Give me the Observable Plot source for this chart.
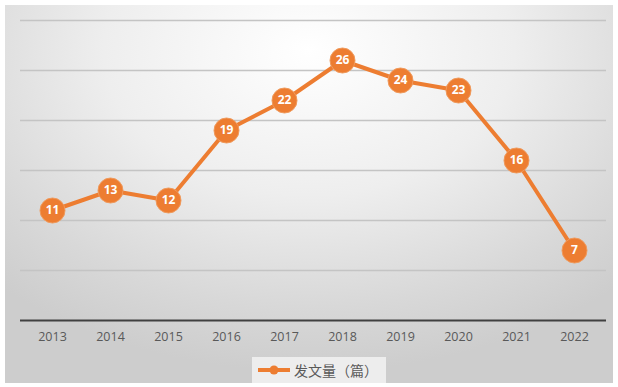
<!DOCTYPE html>
<html><head><meta charset="utf-8">
<script src="https://cdn.jsdelivr.net/npm/d3@7"></script>
<script src="https://cdn.jsdelivr.net/npm/@observablehq/plot@0.6"></script>
<style>
html,body{margin:0;padding:0;background:#fff;}
#wrap{position:absolute;left:5px;top:5px;width:608px;height:378px;
background:radial-gradient(ellipse 75% 85% at 50% 12%, #ffffff 0%, #eeeeee 45%, #d8d8d8 80%, #cdcdcd 100%);}
#legend{position:absolute;left:247px;top:352px;height:26px;padding:0 8px 0 4px;background:rgba(238,238,238,0.95);
display:flex;align-items:center;font-family:"Noto Sans CJK SC",serif;font-size:14px;color:#595959;}
#legend svg{margin-right:2px;}
</style></head><body>
<div id="wrap"><div id="chart"></div>
<div id="legend"><svg width="36" height="12"><line x1="2" x2="34" y1="6" y2="6" stroke="#ED7D31" stroke-width="4"/><circle cx="18" cy="6" r="4.5" fill="#ED7D31"/></svg><span>发文量（篇）</span></div>
</div>
<script>
const years = ["2013","2014","2015","2016","2017","2018","2019","2020","2021","2022"];
const counts = [11,13,12,19,22,26,24,23,16,7];
const gridValues = [5,10,15,20,25,30];
const data = years.map((y,i)=>({year:y, value:counts[i]}));
const orange = "#ED7D31";
const chart = Plot.plot({
  width:608, height:345,
  marginLeft:15, marginRight:7, marginTop:15, marginBottom:30,
  style:{background:"transparent", fontFamily:"'Open Sans', 'Liberation Sans', sans-serif"},
  x:{type:"point", domain:years, padding:0.5, label:null},
  y:{domain:[0,30], axis:null},
  marks:[
    Plot.ruleY(gridValues,{stroke:"#c4c4c4", strokeWidth:1.3}),
    Plot.ruleY([0],{stroke:"#404040", strokeWidth:2}),
    Plot.axisX({tickSize:0, tickPadding:12, fontSize:12.5, color:"#595959", label:null}),
    Plot.lineY(data,{x:"year", y:"value", stroke:orange, strokeWidth:4}),
    Plot.dot(data,{x:"year", y:"value", r:12.5, fill:orange, stroke:"#f09a5c", strokeWidth:1}),
    Plot.text(data,{x:"year", y:"value", text:d=>String(d.value), fill:"white", fontWeight:"bold", fontSize:12})
  ]
});
document.getElementById("chart").appendChild(chart);
</script>
</body></html>
